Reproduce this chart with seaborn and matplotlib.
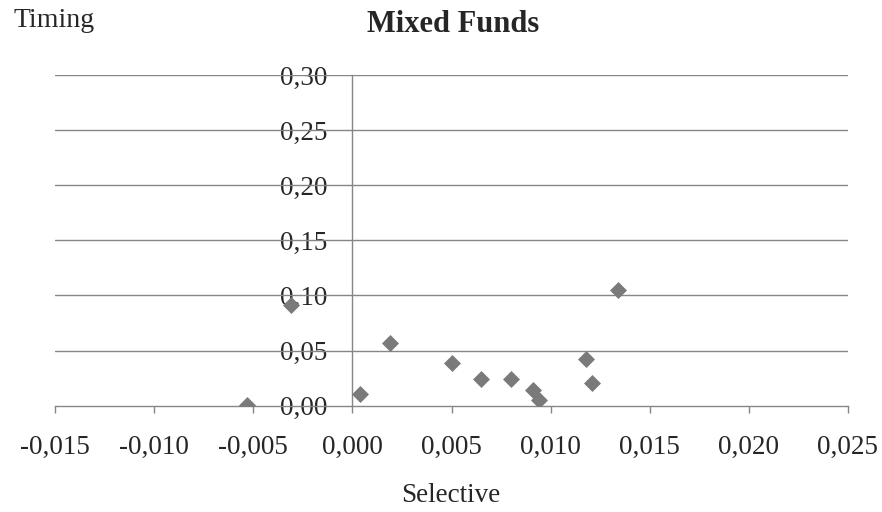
import matplotlib
matplotlib.use('Agg')
import matplotlib.pyplot as plt
import seaborn as sns
import pandas as pd
from matplotlib.ticker import FuncFormatter

selective = [-0.0053, -0.0031, 0.0004, 0.0019, 0.0050, 0.0065, 0.0080, 0.0091, 0.0094, 0.0118, 0.0121, 0.0134]
timing = [0.001, 0.091, 0.011, 0.057, 0.039, 0.024, 0.024, 0.014, 0.005, 0.042, 0.021, 0.105]

x_ticks = [-0.015, -0.010, -0.005, 0.000, 0.005, 0.010, 0.015, 0.020, 0.025]
y_ticks = [0.00, 0.05, 0.10, 0.15, 0.20, 0.25, 0.30]

sns.set_style('white')
plt.rcParams['font.family'] = ['Liberation Serif', 'DejaVu Serif']

grid_col = '#868686'
df = pd.DataFrame({'Selective': selective, 'Timing': timing})

fig = plt.figure(figsize=(8.82, 5.12), dpi=100)
ax = fig.add_axes([55 / 882, 1 - 405.7 / 512, 793 / 882, 330.7 / 512])

sns.scatterplot(data=df, x='Selective', y='Timing', ax=ax, marker='D', s=75,
                color='#7a7a7a', linewidth=0, zorder=3)

ax.set_xlim(x_ticks[0], x_ticks[-1])
ax.set_ylim(y_ticks[0], y_ticks[-1])
ax.set_xticks(x_ticks)
ax.set_yticks(y_ticks)
ax.xaxis.set_major_formatter(FuncFormatter(lambda v, p: f"{v:.3f}".replace('.', ',')))
ax.yaxis.set_major_formatter(FuncFormatter(lambda v, p: f"{v:.2f}".replace('.', ',')))

# horizontal gridlines drawn across the full width
for v in y_ticks[1:]:
    ax.axhline(v, color=grid_col, linewidth=1.0, zorder=1)

ax.spines['left'].set_position(('data', 0))
ax.spines['left'].set_color(grid_col)
ax.spines['bottom'].set_color(grid_col)
ax.spines['left'].set_linewidth(1.0)
ax.spines['bottom'].set_linewidth(1.0)
ax.spines['top'].set_visible(False)
ax.spines['right'].set_visible(False)

ax.tick_params(axis='x', direction='out', length=5, width=1.0, color=grid_col,
               labelsize=19.5, pad=16, bottom=True)
ax.tick_params(axis='y', length=0, labelsize=19.5, pad=18)
ax.set_xlabel('')
ax.set_ylabel('')

fig.text(453 / 882, 1 - 32 / 512, 'Mixed Funds', ha='center', va='baseline',
         fontsize=22, fontweight='bold')
fig.text(13 / 882, 1 - 27 / 512, 'Timing', ha='left', va='baseline', fontsize=20)
fig.text(451 / 882, 1 - 501.7 / 512, 'Selective', ha='center', va='baseline', fontsize=19.5)

fig.savefig('out.png', dpi=100)
